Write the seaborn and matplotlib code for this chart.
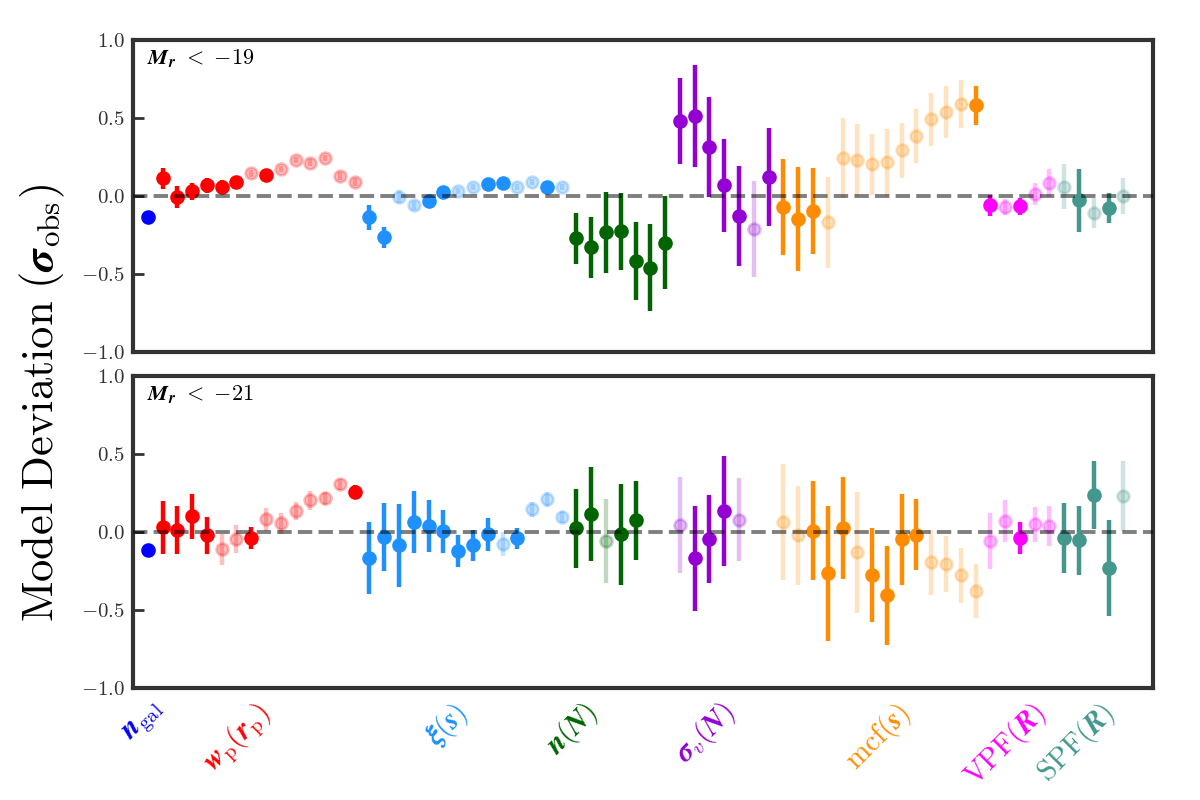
import numpy as np
import pandas as pd
import matplotlib
matplotlib.use("Agg")
import matplotlib.pyplot as plt
import matplotlib.transforms as mtransforms
import seaborn as sns

# ---------------- data ----------------
group_labels = [r"$\boldsymbol{n}_{\rm gal}$", r"$\boldsymbol{w}_{\rm p}(\boldsymbol{r}_{\rm p})$",
                r"$\boldsymbol{\xi}(\boldsymbol{s})$", r"$\boldsymbol{n}(\boldsymbol{N})$",
                r"$\boldsymbol{\sigma}_v(\boldsymbol{N})$", r"${\rm mcf}(\boldsymbol{s})$",
                r"${\rm VPF}(\boldsymbol{R})$", r"${\rm SPF}(\boldsymbol{R})$"]
group_sizes = [1, 14, 14, 7, 7, 14, 5, 5]
group_colors = ["#0000ff", "#ff0000", "#1e90ff", "#006400", "#9400d3", "#ff8c00", "#ff00ff", "#43978d"]
panel_labels = [r"$\boldsymbol{M}_{\boldsymbol{r}}\ \boldsymbol{<}\ \mathbf{-19}$",
                r"$\boldsymbol{M}_{\boldsymbol{r}}\ \boldsymbol{<}\ \mathbf{-21}$"]

# Mr < -19 panel
m19_dev = [-0.133,
           0.113, -0.008, 0.030, 0.068, 0.056, 0.090, 0.145, 0.135, 0.173, 0.229, 0.214, 0.244, 0.126, 0.090,
           -0.137, -0.265, -0.004, -0.060, -0.032, 0.026, 0.034, 0.056, 0.077, 0.085, 0.056, 0.090, 0.060, 0.056,
           -0.271, -0.329, -0.233, -0.226, -0.417, -0.459, -0.301,
           0.479, 0.511, 0.312, 0.068, -0.130, -0.212, 0.122,
           -0.071, -0.147, -0.096, -0.169, 0.244, 0.231, 0.203, 0.216, 0.293, 0.385, 0.491, 0.538, 0.590, 0.581,
           -0.060, -0.070, -0.066, 0.013, 0.083,
           0.058, -0.028, -0.109, -0.077, 0.002]
m19_err = [0.010,
           0.068, 0.070, 0.056, 0.050, 0.045, 0.034, 0.020, 0.020, 0.020, 0.020, 0.020, 0.020, 0.025, 0.025,
           0.079, 0.066, 0.040, 0.030, 0.020, 0.020, 0.020, 0.020, 0.015, 0.015, 0.020, 0.020, 0.015, 0.020,
           0.162, 0.194, 0.260, 0.246, 0.249, 0.281, 0.298,
           0.275, 0.326, 0.320, 0.297, 0.320, 0.310, 0.313,
           0.307, 0.332, 0.278, 0.294, 0.256, 0.233, 0.197, 0.214, 0.175, 0.175, 0.172, 0.169, 0.156, 0.127,
           0.066, 0.050, 0.053, 0.068, 0.087,
           0.144, 0.203, 0.098, 0.098, 0.115]
m19_faded = [0,
             0, 0, 0, 0, 0, 0, 1, 0, 1, 1, 1, 1, 1, 1,
             0, 0, 1, 1, 0, 0, 1, 1, 0, 0, 1, 1, 0, 1,
             0, 0, 0, 0, 0, 0, 0,
             0, 0, 0, 0, 0, 1, 0,
             0, 0, 0, 1, 1, 1, 1, 1, 1, 1, 1, 1, 1, 0,
             0, 1, 0, 1, 1,
             1, 0, 1, 0, 1]

# Mr < -21 panel (NaN = not used)
nan = np.nan
m21_dev = [-0.115,
           0.030, 0.013, 0.100, -0.021, -0.111, -0.045, -0.040, 0.081, 0.056, 0.135, 0.203, 0.216, 0.306, 0.254,
           -0.169, -0.032, -0.085, 0.064, 0.040, 0.004, -0.124, -0.085, -0.015, -0.077, -0.040, 0.145, 0.209, 0.096,
           0.024, 0.115, -0.058, -0.015, 0.075, nan, nan,
           0.043, -0.169, -0.047, 0.132, 0.077, nan, nan,
           0.064, -0.021, 0.009, -0.265, 0.026, -0.130, -0.276, -0.406, -0.047, -0.017, -0.194, -0.207, -0.278, -0.380,
           -0.058, 0.068, -0.040, 0.049, 0.038,
           -0.040, -0.053, 0.237, -0.231, 0.231]
m21_err = [0.010,
           0.168, 0.155, 0.145, 0.120, 0.098, 0.088, 0.072, 0.075, 0.068, 0.060, 0.061, 0.040, 0.035, 0.045,
           0.230, 0.215, 0.265, 0.200, 0.166, 0.140, 0.103, 0.100, 0.105, 0.077, 0.068, 0.050, 0.050, 0.040,
           0.253, 0.304, 0.270, 0.323, 0.252, nan, nan,
           0.307, 0.337, 0.282, 0.353, 0.266, nan, nan,
           0.370, 0.316, 0.316, 0.432, 0.326, 0.387, 0.304, 0.317, 0.292, 0.227, 0.208, 0.180, 0.176, 0.174,
           0.182, 0.134, 0.101, 0.114, 0.127,
           0.223, 0.220, 0.220, 0.307, 0.222]
m21_faded = [0,
             0, 0, 0, 0, 1, 1, 0, 1, 1, 1, 1, 1, 1, 0,
             0, 0, 0, 0, 0, 0, 0, 0, 0, 1, 0, 1, 1, 1,
             0, 0, 1, 0, 0, 0, 0,
             1, 0, 0, 0, 1, 0, 0,
             1, 1, 0, 0, 0, 1, 0, 0, 0, 0, 1, 1, 1, 1,
             1, 1, 0, 1, 1,
             0, 0, 0, 0, 1]

# positions of the rotated group names (data units along x)
label_pos = [-0.2, 6.1, 20.3, 28.7, 37.7, 49.4, 58.0, 62.8]

# ---------------- style ----------------
sns.set_theme(style="white")
plt.rcParams["font.family"] = ["serif"]
plt.rcParams["font.serif"] = ["cmr10", "DejaVu Serif"]
plt.rcParams["mathtext.fontset"] = "cm"
plt.rcParams["axes.formatter.use_mathtext"] = True
plt.rcParams["axes.unicode_minus"] = True

spine_col = "#333333"

fig = plt.figure(figsize=(12, 8), dpi=100)
ax_top = fig.add_axes([0.1108, 0.56, 0.85, 0.39])
ax_bot = fig.add_axes([0.1108, 0.14, 0.85, 0.39])

group_idx = np.repeat(np.arange(len(group_sizes)), group_sizes)
x_all = np.arange(len(group_idx))


def draw_panel(ax, dev, err, faded, label):
    df = pd.DataFrame({"x": x_all, "dev": dev, "err": err, "faded": faded,
                       "color": [group_colors[g] for g in group_idx]})
    df = df.dropna()
    for _, r in df.iterrows():
        a = 0.25 if r["faded"] else 1.0
        ax.errorbar(r["x"], r["dev"], yerr=r["err"], fmt="o", color=r["color"],
                    ms=8.5, elinewidth=3.2, capsize=0, alpha=a, mew=2, zorder=3)
    ax.axhline(0, color="black", alpha=0.5, lw=2.8, ls=(0, (3.7, 1.6)), zorder=5)
    ax.set_xlim(-1, 68)
    ax.set_ylim(-1, 1)
    ax.set_yticks([-1.0, -0.5, 0.0, 0.5, 1.0])
    ax.set_xticks([])
    ax.tick_params(axis="y", direction="in", length=8, width=2, color=spine_col,
                   labelsize=15, labelcolor=spine_col, left=True, pad=6)
    for s in ax.spines.values():
        s.set_linewidth(3)
        s.set_color(spine_col)
        s.set_visible(True)
    ax.text(0.014, 0.94, label, transform=ax.transAxes, fontsize=16, ha="left", va="center",
            color="black")


draw_panel(ax_top, m19_dev, m19_err, m19_faded, panel_labels[0])
draw_panel(ax_bot, m21_dev, m21_err, m21_faded, panel_labels[1])

trans = mtransforms.blended_transform_factory(ax_bot.transData, ax_bot.transAxes)
for lab, pos, col in zip(group_labels, label_pos, group_colors):
    ax_bot.text(pos, -0.03, lab, transform=trans, rotation=45, ha="center", va="top",
                color=col, fontsize=21)

fig.text(0.035, 0.4965, r"$\mathrm{Model\ Deviation}\ (\boldsymbol{\sigma}_{\rm obs})$",
         rotation=90, ha="center", va="center", fontsize=32, color="black")

fig.savefig("out.png", dpi=100)
